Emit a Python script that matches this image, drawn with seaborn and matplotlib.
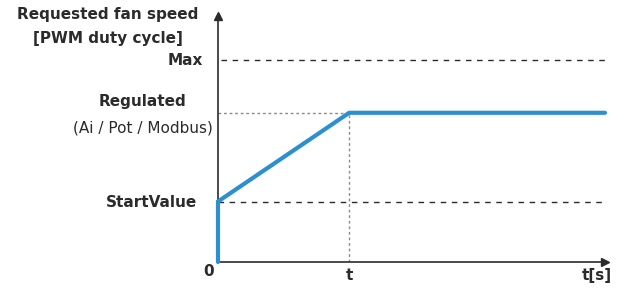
import matplotlib
matplotlib.use("Agg")
import matplotlib.pyplot as plt
import seaborn as sns
import pandas as pd

sns.set_theme(style="white")
plt.rcParams["font.family"] = ["DejaVu Sans"]

# data (y in % of Max, x in units of ramp time t)
time_pts = [0.0, 0.0, 1.0, 2.95]
speed_pts = [0.0, 30.0, 74.0, 74.0]
level_max = 100.0
level_reg = 74.0
level_start = 30.0
t_ramp = 1.0
x_end = 2.95
y_top = 122.0

BLUE = "#2b8fd0"
DARK = "#2b2b2b"
GREY = "#8a8a8a"

df = pd.DataFrame({"t": time_pts, "speed": speed_pts})

fig = plt.figure(figsize=(6.24, 2.88), dpi=100)
ax = fig.add_axes([218 / 624, 26 / 288, (605 - 218) / 624, (262 - 16) / 288])
ax.set_xlim(0, x_end)
ax.set_ylim(0, y_top)

# reference lines
ax.hlines(level_max, 0.02, x_end, colors=DARK, linestyles=(0, (4, 4)), lw=1)
ax.hlines(level_start, 0, x_end, colors=DARK, linestyles=(0, (4, 4)), lw=1)
ax.hlines(level_reg, 0, t_ramp, colors=GREY, linestyles=(0, (2, 2)), lw=1)
ax.vlines(t_ramp, 0, level_reg, colors=GREY, linestyles=(0, (2, 2)), lw=1)

sns.lineplot(data=df, x="t", y="speed", sort=False, estimator=None, color=BLUE, lw=3,
             ax=ax, solid_joinstyle="miter", zorder=5, clip_on=False)

# axes as arrows
for s in ["top", "right"]:
    ax.spines[s].set_visible(False)
for s in ["left", "bottom"]:
    ax.spines[s].set_color(DARK)
    ax.spines[s].set_linewidth(1.2)
ax.plot(1, 0, ">", color=DARK, ms=6, transform=ax.get_yaxis_transform(), clip_on=False)
ax.plot(0, 1, "^", color=DARK, ms=6, transform=ax.get_xaxis_transform(), clip_on=False)

ax.set_xticks([])
ax.set_yticks([])
ax.set_xlabel("")
ax.set_ylabel("")

fs = 11
ax.annotate("Max", (0, level_max), xytext=(-11, 0), textcoords="offset points",
            ha="right", va="center", fontsize=fs, weight="bold", color=DARK, annotation_clip=False)
ax.annotate("Regulated", (0, level_reg), xytext=(-54, 8), textcoords="offset points",
            ha="center", va="center", fontsize=fs, weight="bold", color=DARK, annotation_clip=False)
ax.annotate("(Ai / Pot / Modbus)", (0, level_reg), xytext=(-4, -11), textcoords="offset points",
            ha="right", va="center", fontsize=fs, color=DARK, annotation_clip=False)
ax.annotate("StartValue", (0, level_start), xytext=(-15, -1), textcoords="offset points",
            ha="right", va="center", fontsize=fs, weight="bold", color=DARK, annotation_clip=False)
ax.annotate("0", (0, 0), xytext=(-7, -7), textcoords="offset points",
            ha="center", va="center", fontsize=fs, weight="bold", color=DARK, annotation_clip=False)
ax.annotate("t", (t_ramp, 0), xytext=(0, -10), textcoords="offset points",
            ha="center", va="center", fontsize=fs, weight="bold", color=DARK, annotation_clip=False)
ax.annotate("t[s]", (x_end, 0), xytext=(-6, -10), textcoords="offset points",
            ha="center", va="center", fontsize=fs, weight="bold", color=DARK, annotation_clip=False)

fig.text(108 / 624, 1 - 14 / 288, "Requested fan speed", ha="center", va="center",
         fontsize=fs, weight="bold", color=DARK)
fig.text(108 / 624, 1 - 38 / 288, "[PWM duty cycle]", ha="center", va="center",
         fontsize=fs, weight="bold", color=DARK)

fig.savefig("out.png", dpi=100, facecolor="white")
